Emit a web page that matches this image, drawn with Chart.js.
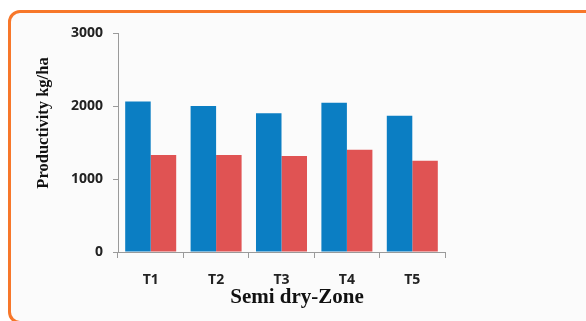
<!DOCTYPE html>
<html>
<head>
<meta charset="utf-8">
<script src="https://cdn.jsdelivr.net/npm/chart.js@4/dist/chart.umd.min.js"></script>
<style>
  html, body { margin: 0; padding: 0; background: #ffffff; }
  #wrap { position: relative; width: 586px; height: 321px; overflow: hidden; }
  #frame {
    position: absolute; left: 8px; top: 10px; width: 600px; height: 308px;
    border: 3px solid #f7772a; border-radius: 12px; background: #fbfbfb;
  }
  #c { position: absolute; left: 0; top: 0; }
</style>
</head>
<body>
<div id="wrap">
  <div id="frame"></div>
  <canvas id="c" width="586" height="321"></canvas>
</div>
<script>
// Productivity by treatment in the semi dry zone
const categories = ['T1', 'T2', 'T3', 'T4', 'T5'];
const seriesBlue = [2060, 2000, 1900, 2045, 1865];
const seriesRed = [1330, 1330, 1315, 1400, 1250];
const yTicks = [0, 1000, 2000, 3000];
const yTitle = 'Productivity kg/ha';
const xTitle = 'Semi dry-Zone';

const axisTitles = {
  id: 'axisTitles',
  afterDraw(chart) {
    const ctx = chart.ctx;
    ctx.save();
    ctx.fillStyle = '#111111';
    ctx.textAlign = 'center';
    ctx.textBaseline = 'middle';
    ctx.font = 'bold 21px "Liberation Serif", "Times New Roman", serif';
    ctx.fillText(xTitle, 297, 298);
    ctx.translate(44, 123);
    ctx.rotate(-Math.PI / 2);
    ctx.font = 'bold 16.5px "Liberation Serif", "Times New Roman", serif';
    ctx.fillText(yTitle, 0, 0);
    ctx.restore();
  }
};

const tickFont = { family: '"Open Sans", sans-serif', weight: 'bold', size: 14 };

new Chart(document.getElementById('c'), {
  type: 'bar',
  data: {
    labels: categories,
    datasets: [
      { data: seriesBlue, backgroundColor: '#0b7ec3', borderWidth: 0 },
      { data: seriesRed, backgroundColor: '#e05353', borderWidth: 0 }
    ]
  },
  options: {
    responsive: false,
    animation: false,
    events: [],
    layout: { padding: { left: 0, right: 141, top: 33, bottom: 0 } },
    datasets: { bar: { categoryPercentage: 0.78, barPercentage: 1.0 } },
    plugins: { legend: { display: false }, tooltip: { enabled: false } },
    scales: {
      x: {
        grid: { drawOnChartArea: false, drawTicks: true, tickLength: 6, color: '#9a9a9a' },
        border: { color: '#9a9a9a', width: 1 },
        ticks: { color: '#222222', padding: 14, font: tickFont },
        afterFit(scale) { scale.height = 69; }
      },
      y: {
        min: 0, max: 3000,
        afterBuildTicks(scale) { scale.ticks = yTicks.map(v => ({ value: v })); },
        grid: { drawOnChartArea: false, drawTicks: true, tickLength: 5, color: '#9a9a9a' },
        border: { color: '#9a9a9a', width: 1 },
        ticks: { color: '#222222', padding: 10, font: tickFont, callback: v => String(v) },
        afterFit(scale) { scale.width = 118; }
      }
    }
  },
  plugins: [axisTitles]
});
</script>
</body>
</html>
